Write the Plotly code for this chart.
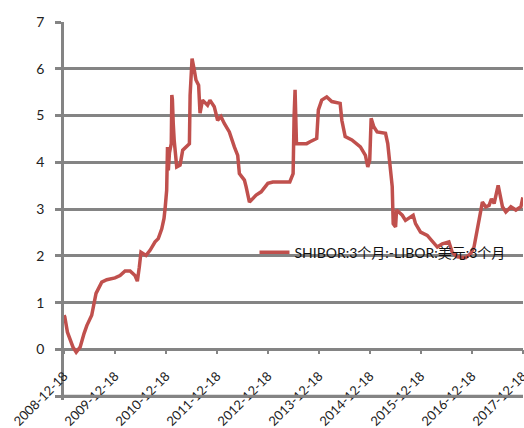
import plotly.graph_objects as go

# SHIBOR 3M minus USD LIBOR 3M spread, percentage points
dates = [
    "2008-12-18", "2008-12-23", "2009-01-11", "2009-01-30", "2009-02-20", "2009-03-15",
    "2009-04-12", "2009-05-10", "2009-05-30", "2009-07-04", "2009-07-16", "2009-08-04",
    "2009-09-14", "2009-10-20", "2009-12-18", "2010-01-23", "2010-02-28", "2010-04-05",
    "2010-05-10", "2010-05-27", "2010-06-10", "2010-06-22", "2010-07-28", "2010-08-26",
    "2010-10-01", "2010-10-24", "2010-11-18", "2010-12-04", "2010-12-13", "2010-12-23",
    "2010-12-29", "2011-01-04", "2011-01-12", "2011-01-25", "2011-01-29", "2011-02-02",
    "2011-02-08", "2011-02-15", "2011-03-05", "2011-03-29", "2011-04-17", "2011-05-22",
    "2011-06-04", "2011-06-09", "2011-06-23", "2011-07-09", "2011-07-21", "2011-08-09",
    "2011-08-19", "2011-09-06", "2011-10-12", "2011-10-29", "2011-11-29", "2011-12-23",
    "2012-01-16", "2012-02-09", "2012-03-16", "2012-04-21", "2012-05-15", "2012-05-27",
    "2012-07-02", "2012-07-14", "2012-08-07", "2012-09-24", "2012-10-30", "2012-12-17",
    "2013-01-22", "2013-05-23", "2013-06-16", "2013-06-23", "2013-06-30", "2013-07-10",
    "2013-09-21", "2013-10-15", "2013-12-02", "2013-12-14", "2014-01-07", "2014-02-12",
    "2014-03-20", "2014-05-19", "2014-05-31", "2014-06-24", "2014-08-11", "2014-10-11",
    "2014-11-16", "2014-12-03", "2014-12-17", "2014-12-27", "2015-01-15", "2015-02-08",
    "2015-04-09", "2015-04-25", "2015-05-10", "2015-05-27", "2015-06-03", "2015-06-20",
    "2015-06-27", "2015-08-07", "2015-08-30", "2015-09-23", "2015-10-05", "2015-10-24",
    "2015-11-10", "2015-12-16", "2016-02-02", "2016-03-09", "2016-04-14", "2016-05-20",
    "2016-07-06", "2016-07-30", "2016-09-04", "2016-11-03", "2016-12-09", "2017-01-02",
    "2017-01-26", "2017-02-19", "2017-03-03", "2017-03-27", "2017-04-20", "2017-05-07",
    "2017-05-26", "2017-06-24", "2017-07-13", "2017-07-25", "2017-08-18", "2017-09-23",
    "2017-10-29", "2017-12-04", "2017-12-18",
]
spread = [
    0.73, 0.70, 0.37, 0.19, 0.05, -0.06,
    0.05, 0.34, 0.51, 0.73, 0.94, 1.20,
    1.44, 1.49, 1.53, 1.58, 1.68, 1.68,
    1.58, 1.46, 1.76, 2.08, 2.01, 2.12,
    2.30, 2.37, 2.58, 2.80, 3.05, 3.40,
    4.33, 3.83, 4.20, 4.40, 5.44, 5.35,
    4.84, 4.47, 3.90, 3.94, 4.26, 4.37,
    4.40, 5.44, 6.22, 5.97, 5.76, 5.65,
    5.05, 5.33, 5.22, 5.33, 5.19, 4.90,
    4.98, 4.83, 4.65, 4.33, 4.15, 3.76,
    3.62, 3.48, 3.15, 3.30, 3.37, 3.55,
    3.58, 3.58, 3.76, 4.98, 5.55, 4.40,
    4.40, 4.44, 4.51, 5.12, 5.33, 5.40,
    5.30, 5.26, 4.90, 4.55, 4.48, 4.33,
    4.15, 3.90, 4.05, 4.94, 4.76, 4.65,
    4.62, 4.40, 3.98, 3.48, 2.69, 2.62,
    2.98, 2.87, 2.76, 2.80, 2.83, 2.87,
    2.69, 2.51, 2.44, 2.30, 2.19, 2.26,
    2.30, 2.08, 1.98, 1.96, 2.05, 2.19,
    2.55, 2.98, 3.15, 3.05, 3.08, 3.22,
    3.12, 3.51, 3.26, 3.05, 2.94, 3.05,
    2.98, 3.05, 3.25,
]

x_ticks = ["2008-12-18", "2009-12-18", "2010-12-18", "2011-12-18", "2012-12-18",
           "2013-12-18", "2014-12-18", "2015-12-18", "2016-12-18", "2017-12-18"]
y_ticks = [-1, 0, 1, 2, 3, 4, 5, 6, 7]
y_labels = ["", "0", "1", "2", "3", "4", "5", "6", "7"]
y_range = [-1.08, 7.0]

series_name = "SHIBOR:3个月:-LIBOR:美元:3个月"

GRID = "#848484"
LINE = "#C0504D"
FONT = "Lato, 'Noto Sans CJK SC', sans-serif"

# the date axis crosses the value axis at zero
zero_pos = (0 - y_range[0]) / (y_range[1] - y_range[0])

fig = go.Figure()
fig.add_trace(go.Scatter(
    x=dates, y=spread, mode="lines", name=series_name,
    line=dict(color=LINE, width=3.5),
    showlegend=True,
))

# lowest horizontal gridline (value -1), which closes the plot area at the bottom
fig.add_shape(
    type="line", xref="paper", yref="y",
    x0=0, x1=1, y0=y_ticks[0], y1=y_ticks[0],
    line=dict(color=GRID, width=2.8), layer="above",
)

fig.update_layout(
    width=524, height=428,
    margin=dict(l=64, r=1, t=22, b=28, autoexpand=False),
    paper_bgcolor="white", plot_bgcolor="white",
    font=dict(family=FONT, size=13, color="#222222"),
    showlegend=True,
    legend=dict(
        x=0.415, y=0.39, xanchor="left", yanchor="middle",
        bgcolor="rgba(0,0,0,0)", borderwidth=0,
        font=dict(family=FONT, size=14, color="#111111"),
        itemwidth=30,
    ),
    xaxis=dict(
        type="date",
        range=["2008-12-17 12:00", "2017-12-19"],
        tickvals=x_ticks, ticktext=x_ticks,
        tickangle=-45,
        anchor="free", position=zero_pos,
        showgrid=False, zeroline=False, showline=False,
        ticks="outside", ticklen=4, tickwidth=2, tickcolor=GRID,
        tickfont=dict(family=FONT, size=13, color="#222222"),
        ticklabelstandoff=9,
        ticklabeloverflow="allow",
        automargin=False,
    ),
    yaxis=dict(
        range=y_range,
        tickvals=y_ticks, ticktext=y_labels,
        showgrid=True, gridcolor=GRID, gridwidth=2.8,
        zeroline=False,
        showline=True, linecolor=GRID, linewidth=2.8,
        ticks="outside", ticklen=6, tickwidth=2.8, tickcolor=GRID,
        tickfont=dict(family=FONT, size=14, color="#222222"),
        ticklabelstandoff=8,
        automargin=False,
    ),
)

fig.write_html("out.html")
